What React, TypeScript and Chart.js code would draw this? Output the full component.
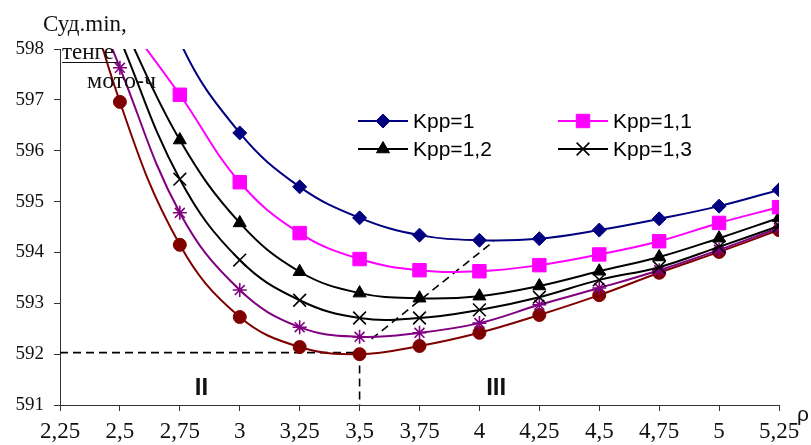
import React, { useEffect, useRef } from 'react';
import { Chart, registerables } from 'chart.js';
import { drawPoint } from 'chart.js/helpers';

Chart.register(...registerables);

// ---- data ----
const xValues = [2.25, 2.5, 2.75, 3, 3.25, 3.5, 3.75, 4, 4.25, 4.5, 4.75, 5, 5.25];
const kpp10 = [null, 601.5, 598.15, 596.35, 595.29, 594.68, 594.34, 594.24, 594.27, 594.44, 594.66, 594.91, 595.23];
const kpp11 = [null, 598.7, 597.1, 595.38, 594.38, 593.87, 593.65, 593.63, 593.75, 593.96, 594.22, 594.58, 594.89];
const kpp12 = [null, 598.6, 596.21, 594.58, 593.62, 593.2, 593.1, 593.14, 593.34, 593.63, 593.91, 594.28, 594.68];
const kpp13 = [null, 598.2, 595.44, 593.85, 593.06, 592.71, 592.71, 592.87, 593.12, 593.46, 593.71, 594.11, 594.52];
const kpp14 = [600.6, 597.63, 594.78, 593.26, 592.53, 592.34, 592.42, 592.61, 592.97, 593.3, 593.65, 594.05, 594.48];
const kpp15 = [601.0, 596.96, 594.15, 592.73, 592.14, 592.0, 592.16, 592.42, 592.77, 593.16, 593.6, 594.01, 594.44];

const legendLabels = ['Kpp=1', 'Kpp=1,1', 'Kpp=1,2', 'Kpp=1,3'];

// dashed guide lines (data units)
const guideH = [{ x: 2.25, y: 592.03 }, { x: 3.5, y: 592.03 }];
const guideV = [{ x: 3.5, y: 592.03 }, { x: 3.5, y: 591 }];
const guideD = [{ x: 3.55, y: 592.3 }, { x: 4.06, y: 594.22 }];

// zone labels (data units)
const zoneLabels = [
  { text: 'II', x: 2.84, y: 591.33 },
  { text: 'III', x: 4.07, y: 591.33 },
];

const xMin = 2.25, xMax = 5.25, xStep = 0.25;
const yMin = 591, yMax = 598, yStep = 1;

const SERIF = "'Liberation Serif', 'Times New Roman', serif";
const SANS = "'Liberation Sans', Arial, sans-serif";

const toPts = (arr: (number | null)[]) => xValues.map((x, i) => ({ x, y: arr[i] }));

const overlayPlugin = {
  id: 'overlay',
  afterDraw(chart: any) {
    const ctx = chart.ctx as CanvasRenderingContext2D;
    const xs = chart.scales.x;
    const ys = chart.scales.y;
    ctx.save();

    // legend (2 x 2)
    const slots = [
      { lx: 358, ty: 121 },
      { lx: 558, ty: 121 },
      { lx: 358, ty: 149 },
      { lx: 558, ty: 149 },
    ];
    legendLabels.forEach((label, i) => {
      const ds = chart.data.datasets[i];
      const s = slots[i];
      ctx.strokeStyle = ds.borderColor;
      ctx.lineWidth = 2;
      ctx.setLineDash([]);
      ctx.beginPath();
      ctx.moveTo(s.lx, s.ty);
      ctx.lineTo(s.lx + 50, s.ty);
      ctx.stroke();
      ctx.fillStyle = ds.pointBackgroundColor;
      ctx.strokeStyle = ds.pointBorderColor;
      ctx.lineWidth = ds.pointBorderWidth;
      drawPoint(ctx, { pointStyle: ds.pointStyle, radius: ds.pointRadius, rotation: 0, borderWidth: ds.pointBorderWidth } as any, s.lx + 25, s.ty);
      ctx.fillStyle = '#000';
      ctx.font = `21px ${SANS}`;
      ctx.textAlign = 'left';
      ctx.textBaseline = 'middle';
      ctx.fillText(label, s.lx + 55, s.ty + 1);
    });

    // y-axis title
    ctx.fillStyle = '#111';
    ctx.textAlign = 'left';
    ctx.textBaseline = 'alphabetic';
    ctx.font = `23px ${SERIF}`;
    ctx.fillText('Суд.min,', 43, 31);
    ctx.fillText('тенге', 62, 59);
    ctx.strokeStyle = '#111';
    ctx.lineWidth = 1;
    ctx.beginPath();
    ctx.moveTo(62, 62.5);
    ctx.lineTo(118, 62.5);
    ctx.stroke();
    ctx.font = `24px ${SERIF}`;
    ctx.fillText('мото-ч', 87, 88);

    // x-axis title
    ctx.font = `21px ${SANS}`;
    ctx.fillStyle = '#111';
    ctx.fillText('ρ', 797, 421);

    // zone labels
    ctx.font = `bold 24px ${SANS}`;
    ctx.textAlign = 'center';
    ctx.textBaseline = 'middle';
    zoneLabels.forEach((z) => {
      ctx.fillText(z.text, xs.getPixelForValue(z.x), ys.getPixelForValue(z.y));
    });

    ctx.restore();
  },
};

function series(label: string, data: (number | null)[], color: string, style: string, radius: number, bw: number) {
  return {
    label,
    data: toPts(data),
    borderColor: color,
    backgroundColor: color,
    borderWidth: 2,
    pointStyle: style,
    pointRadius: radius,
    pointBackgroundColor: color,
    pointBorderColor: color,
    pointBorderWidth: bw,
    tension: 0.4,
    fill: false,
  };
}

function guide(data: { x: number; y: number }[]) {
  return {
    label: '',
    data,
    borderColor: '#000',
    borderWidth: 1.6,
    borderDash: [8, 5],
    pointRadius: 0,
    tension: 0,
    fill: false,
  };
}

export default function App() {
  const ref = useRef<HTMLCanvasElement>(null);
  useEffect(() => {
    if (!ref.current) return;
    const chart = new Chart(ref.current, {
      type: 'line',
      data: {
        datasets: [
          series('Kpp=1', kpp10, '#000080', 'rectRot', 7, 1),
          series('Kpp=1,1', kpp11, '#FF00FF', 'rect', 9.5, 1),
          series('Kpp=1,2', kpp12, '#000000', 'triangle', 7.5, 1),
          series('Kpp=1,3', kpp13, '#000000', 'crossRot', 9, 1.6),
          series('Kpp=1,4', kpp14, '#800080', 'star', 7, 1.6),
          series('Kpp=1,5', kpp15, '#800000', 'circle', 6.5, 1),
          guide(guideH),
          guide(guideV),
          guide(guideD),
        ] as any,
      },
      options: {
        animation: false,
        responsive: false,
        events: [],
        layout: { padding: { top: 49, right: 32, left: 0, bottom: 0 } },
        plugins: {
          legend: { display: false },
          tooltip: { enabled: false },
          title: { display: false },
        },
        scales: {
          x: {
            type: 'linear',
            min: xMin,
            max: xMax,
            afterFit: (s: any) => { s.height = 40; },
            ticks: {
              stepSize: xStep,
              color: '#111',
              font: { family: SERIF, size: 23 },
              padding: 7,
              maxRotation: 0,
              autoSkip: false,
              callback: (v: any) => Number(Number(v).toFixed(2)).toString().replace('.', ','),
            },
            grid: { display: true, drawOnChartArea: false, drawTicks: true, tickLength: 6, color: '#333' },
            border: { display: true, color: '#333', width: 1 },
          },
          y: {
            type: 'linear',
            min: yMin,
            max: yMax,
            afterFit: (s: any) => { s.width = 60; },
            ticks: {
              stepSize: yStep,
              color: '#111',
              font: { family: SERIF, size: 19 },
              padding: 10,
              callback: (v: any) => String(v),
            },
            grid: { display: true, drawOnChartArea: false, drawTicks: true, tickLength: 6, color: '#333' },
            border: { display: true, color: '#333', width: 1 },
          },
        },
      } as any,
      plugins: [overlayPlugin],
    });
    return () => chart.destroy();
  }, []);
  return (
    <div style={{ position: 'fixed', left: 0, top: 0, width: 811, height: 445, background: '#fff' }}>
      <canvas ref={ref} width={811} height={445} />
    </div>
  );
}
